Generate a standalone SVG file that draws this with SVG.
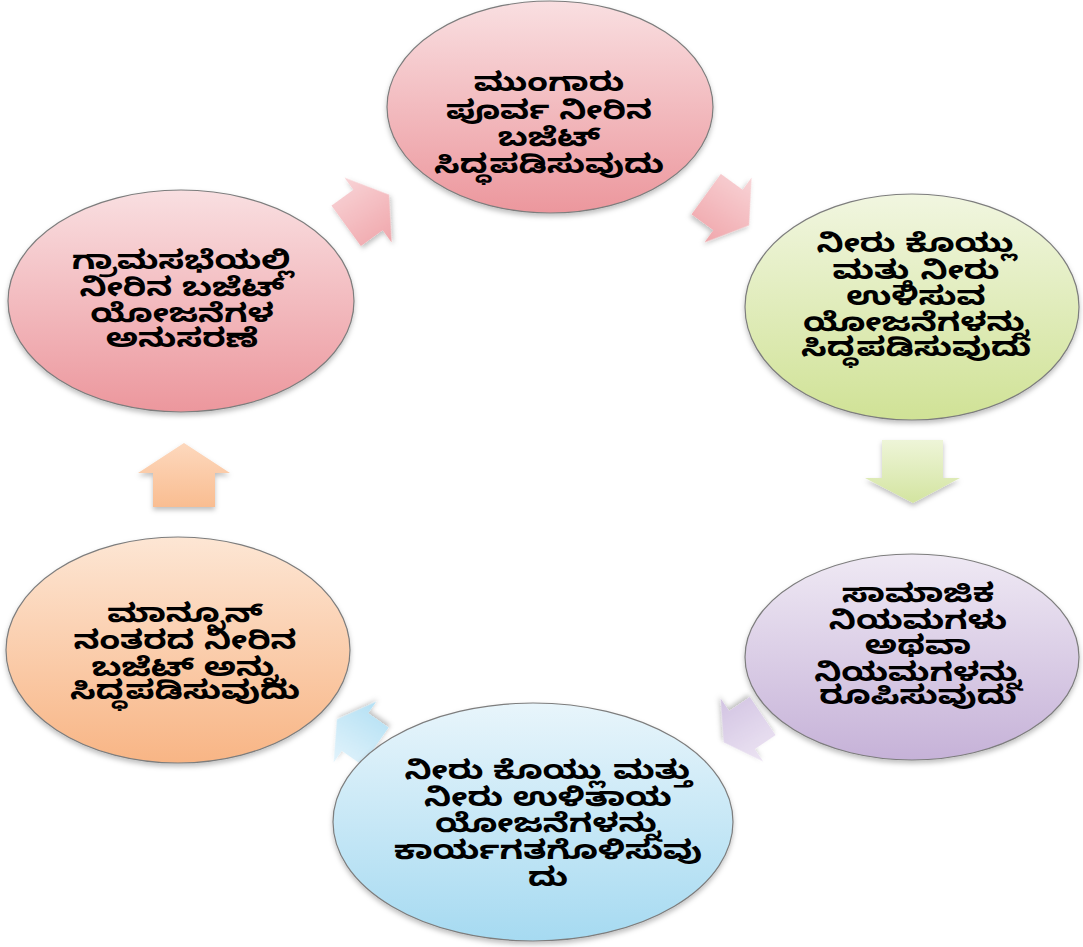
<svg xmlns="http://www.w3.org/2000/svg" width="1083" height="947" viewBox="0 0 1083 947">
<defs>
<linearGradient id="gPink" x1="0" y1="0" x2="0" y2="1"><stop offset="0" stop-color="#f9dfe1"/><stop offset="1" stop-color="#ec979d"/></linearGradient>
<linearGradient id="gGreen" x1="0" y1="0" x2="0" y2="1"><stop offset="0" stop-color="#f1f6e0"/><stop offset="1" stop-color="#d0e296"/></linearGradient>
<linearGradient id="gPurple" x1="0" y1="0" x2="0" y2="1"><stop offset="0" stop-color="#efe9f4"/><stop offset="1" stop-color="#c6b2d8"/></linearGradient>
<linearGradient id="gBlue" x1="0" y1="0" x2="0" y2="1"><stop offset="0" stop-color="#e8f5fb"/><stop offset="1" stop-color="#a6daf1"/></linearGradient>
<linearGradient id="gOrange" x1="0" y1="0" x2="0" y2="1"><stop offset="0" stop-color="#fde6d4"/><stop offset="1" stop-color="#f8b585"/></linearGradient>
<linearGradient id="aPink" x1="0" y1="0" x2="0" y2="1"><stop offset="0" stop-color="#f8d3d6"/><stop offset="1" stop-color="#f0a6ab"/></linearGradient>
<linearGradient id="aGreen" x1="0" y1="0" x2="0" y2="1"><stop offset="0" stop-color="#eef5d8"/><stop offset="1" stop-color="#d3e4a0"/></linearGradient>
<linearGradient id="aPurple" x1="0" y1="0" x2="0" y2="1"><stop offset="0" stop-color="#ece4f3"/><stop offset="1" stop-color="#d2c3e2"/></linearGradient>
<linearGradient id="aBlue" x1="0" y1="0" x2="0" y2="1"><stop offset="0" stop-color="#e2f3fb"/><stop offset="1" stop-color="#b3e0f4"/></linearGradient>
<linearGradient id="aOrange" x1="0" y1="0" x2="0" y2="1"><stop offset="0" stop-color="#fdd8bd"/><stop offset="1" stop-color="#f9bd91"/></linearGradient>
<filter id="sh" x="-10%" y="-10%" width="120%" height="125%"><feDropShadow dx="0" dy="3" stdDeviation="2.5" flood-color="#000" flood-opacity="0.25"/></filter>
</defs>
<style>
.node ellipse{stroke:#7d7d7d;stroke-width:1.2;filter:url(#sh)}
.node text{font-family:"Noto Sans Kannada","Noto Sans","DejaVu Sans",sans-serif;font-size:26px;font-weight:bold;fill:#000;text-anchor:middle}
.arr{filter:url(#sh)}
</style>
<rect width="1083" height="947" fill="#fff"/>
<g id="connectors">
<path class="arr" fill="url(#aPink)" transform="translate(368,210) rotate(-36)" d="M-27,-25 L0,-25 L0,-40 L26,0 L0,40 L0,25 L-27,25 Z"/>
<path class="arr" fill="url(#aPink)" transform="translate(728,210) rotate(36)" d="M-27,-25 L0,-25 L0,-40 L26,0 L0,40 L0,25 L-27,25 Z"/>
<path class="arr" fill="url(#aGreen)" d="M882,440 L943,440 L943,478 L960,478 L913,503 L865,478 L882,478 Z"/>
<path class="arr" fill="url(#aPurple)" transform="translate(742,730) rotate(146)" d="M-25,-23 L0,-23 L0,-38 L22,0 L0,38 L0,23 L-25,23 Z"/>
<path class="arr" fill="url(#aBlue)" transform="translate(355,732) rotate(-145)" d="M-25,-23 L0,-23 L0,-37 L22,0 L0,37 L0,23 L-25,23 Z"/>
<path class="arr" fill="url(#aOrange)" d="M153,507 L215,507 L215,473 L230,473 L184,443 L138,473 L153,473 Z"/>
</g>
<g id="n1" class="node">
<ellipse cx="550" cy="107" rx="163" ry="106" fill="url(#gPink)"/>
<g transform="translate(549,0) scale(1.3,1)">
<text x="0" y="91">ಮುಂಗಾರು</text>
<text x="0" y="119">ಪೂರ್ವ ನೀರಿನ</text>
<text x="0" y="146">ಬಜೆಟ್</text>
<text x="0" y="173">ಸಿದ್ಧಪಡಿಸುವುದು</text>
</g>
</g>
<g id="n2" class="node">
<ellipse cx="912" cy="307" rx="167" ry="113" fill="url(#gGreen)"/>
<g transform="translate(916,0) scale(1.3,1)">
<text x="0" y="252">ನೀರು ಕೊಯ್ಲು</text>
<text x="0" y="279">ಮತ್ತು ನೀರು</text>
<text x="0" y="305">ಉಳಿಸುವ</text>
<text x="0" y="331">ಯೋಜನೆಗಳನ್ನು</text>
<text x="0" y="356">ಸಿದ್ಧಪಡಿಸುವುದು</text>
</g>
</g>
<g id="n3" class="node">
<ellipse cx="912" cy="657" rx="167" ry="103" fill="url(#gPurple)"/>
<g transform="translate(918,0) scale(1.3,1)">
<text x="0" y="602">ಸಾಮಾಜಿಕ</text>
<text x="0" y="629">ನಿಯಮಗಳು</text>
<text x="0" y="654">ಅಥವಾ</text>
<text x="0" y="681">ನಿಯಮಗಳನ್ನು</text>
<text x="0" y="704">ರೂಪಿಸುವುದು</text>
</g>
</g>
<g id="n4" class="node">
<ellipse cx="533" cy="822" rx="200" ry="119" fill="url(#gBlue)"/>
<g transform="translate(548,0) scale(1.3,1)">
<text x="0" y="779">ನೀರು ಕೊಯ್ಲು ಮತ್ತು</text>
<text x="0" y="806">ನೀರು ಉಳಿತಾಯ</text>
<text x="0" y="832">ಯೋಜನೆಗಳನ್ನು</text>
<text x="0" y="859">ಕಾರ್ಯಗತಗೊಳಿಸುವು</text>
<text x="0" y="886">ದು</text>
</g>
</g>
<g id="n5" class="node">
<ellipse cx="178" cy="650" rx="172" ry="113" fill="url(#gOrange)"/>
<g transform="translate(185,0) scale(1.3,1)">
<text x="0" y="622">ಮಾನ್ಸೂನ್</text>
<text x="0" y="649">ನಂತರದ ನೀರಿನ</text>
<text x="0" y="676">ಬಜೆಟ್ ಅನ್ನು</text>
<text x="0" y="699">ಸಿದ್ಧಪಡಿಸುವುದು</text>
</g>
</g>
<g id="n6" class="node">
<ellipse cx="181" cy="301" rx="173" ry="111" fill="url(#gPink)"/>
<g transform="translate(182,0) scale(1.3,1)">
<text x="0" y="269">ಗ್ರಾಮಸಭೆಯಲ್ಲಿ</text>
<text x="0" y="296">ನೀರಿನ ಬಜೆಟ್</text>
<text x="0" y="322">ಯೋಜನೆಗಳ</text>
<text x="0" y="347">ಅನುಸರಣೆ</text>
</g>
</g>
</svg>
